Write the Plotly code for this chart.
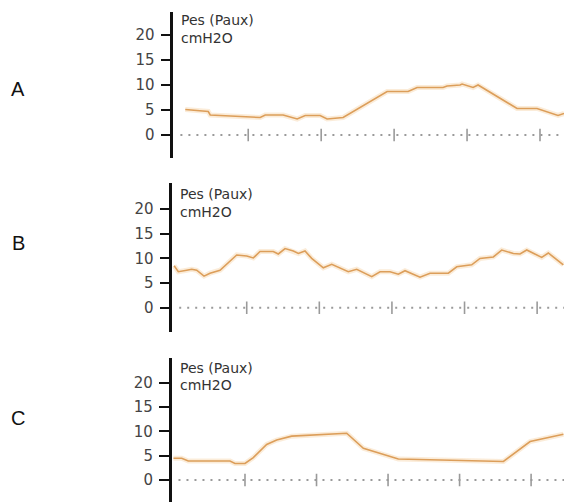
import plotly.graph_objects as go

# Oesophageal pressure traces (cmH2O) over time (s) for three recordings
t_a = [0.137, 0.30, 0.452, 0.479, 1.164, 1.233, 1.479, 1.671, 1.781, 1.986, 2.082,
       2.301, 2.438, 2.904, 3.192, 3.315, 3.671, 3.726, 3.904, 3.932, 4.082, 4.151,
       4.685, 4.959, 5.247, 5.315, 5.33]
p_a = [5.1, 4.9, 4.7, 4.0, 3.5, 4.0, 4.0, 3.2, 3.9, 3.9, 3.2,
       3.5, 4.7, 8.7, 8.7, 9.5, 9.5, 9.8, 10.0, 10.2, 9.5, 10.0,
       5.3, 5.3, 3.9, 4.3, 4.3]

t_b = [0.0, 0.058, 0.174, 0.242, 0.311, 0.412, 0.494, 0.587, 0.632, 0.862, 1.0,
       1.091, 1.183, 1.366, 1.435, 1.528, 1.642, 1.711, 1.803, 1.895, 2.055, 2.171,
       2.399, 2.515, 2.722, 2.836, 2.974, 3.088, 3.180, 3.387, 3.525, 3.777, 3.893,
       4.099, 4.213, 4.397, 4.512, 4.672, 4.764, 4.857, 5.063, 5.154, 5.361]
p_b = [8.5, 7.3, 7.6, 7.8, 7.6, 6.4, 7.0, 7.5, 7.6, 10.7, 10.5,
       10.1, 11.4, 11.4, 10.9, 12.0, 11.5, 11.0, 11.5, 10.0, 8.1, 8.8,
       7.3, 7.8, 6.3, 7.3, 7.3, 6.8, 7.5, 6.2, 7.0, 7.0, 8.3,
       8.7, 10.0, 10.3, 11.7, 11.0, 10.9, 11.7, 10.2, 11.1, 8.7]

t_c = [0.0, 0.115, 0.207, 0.790, 0.860, 1.0, 1.116, 1.303, 1.443, 1.653, 2.422,
       2.655, 3.144, 4.613, 4.986, 5.452]
p_c = [4.45, 4.45, 3.9, 3.9, 3.4, 3.4, 4.6, 7.3, 8.2, 9.0, 9.6,
       6.5, 4.3, 3.8, 7.9, 9.4]

panel_labels = ["A", "B", "C"]
y_ticks = [0, 5, 10, 15, 20]
time_ticks = [1, 2, 3, 4, 5]
channel_name = "Pes (Paux)"
unit_name = "cmH2O"

series = [(t_a, p_a), (t_b, p_b), (t_c, p_c)]

# axis layout per panel: (x domain start, x range, y domain, y range)
panels = [
    (0.3073, [-0.027, 5.329], [0.6853, 0.9761], [-4.6, 24.6]),
    (0.3055, [-0.025, 5.37], [0.3396, 0.6345], [-4.83, 25.2]),
    (0.3044, [-0.025, 5.46], [0.0, 0.2869], [-4.52, 25.05]),
]
letter_y = [88.7, 242.5, 417.5]  # pixel rows of the panel letters

W, H = 564, 502
line_col = "#DC9E5A"
halo_col = "rgba(240,185,120,0.28)"
grey = "#9a9a9a"

fig = go.Figure()
annotations = []

for i, ((t, p), (xd0, xr, yd, yr)) in enumerate(zip(series, panels)):
    n = "" if i == 0 else str(i + 1)
    xa, ya = "x" + n, "y" + n

    # dotted baseline at zero with second markers
    fig.add_trace(go.Scatter(x=[0.07, xr[1]], y=[0, 0], mode="lines",
                             line=dict(color=grey, width=2, dash="2px,6px"),
                             xaxis=xa, yaxis=ya, hoverinfo="skip", showlegend=False))
    fig.add_trace(go.Scatter(x=time_ticks, y=[0] * len(time_ticks), mode="markers",
                             marker=dict(symbol="line-ns-open", size=9, color=grey,
                                         line=dict(color=grey, width=1.6)),
                             xaxis=xa, yaxis=ya, hoverinfo="skip", showlegend=False))
    # pressure trace with a soft halo
    fig.add_trace(go.Scatter(x=t, y=p, mode="lines",
                             line=dict(color=halo_col, width=5),
                             xaxis=xa, yaxis=ya, hoverinfo="skip", showlegend=False))
    fig.add_trace(go.Scatter(x=t, y=p, mode="lines",
                             line=dict(color=line_col, width=1.6),
                             xaxis=xa, yaxis=ya, showlegend=False))

    fig.update_layout({
        "xaxis" + n: dict(domain=[xd0, 1.0], range=xr, showline=False, showgrid=False,
                          zeroline=False, showticklabels=False, ticks="", anchor=ya),
        "yaxis" + n: dict(domain=yd, range=yr, anchor=xa,
                          tickvals=y_ticks, ticks="outside", ticklen=10, tickwidth=2,
                          tickcolor="#111", showline=True, linecolor="#111", linewidth=2.5,
                          showgrid=False, zeroline=False, ticklabelstandoff=3,
                          tickfont=dict(family="DejaVu Sans", size=15, color="#444")),
    })

    annotations.append(dict(x=xd0 + 7 / W, y=23.0, xref="paper", yref=ya,
                            text=channel_name, showarrow=False, xanchor="left",
                            yanchor="middle", borderpad=0,
                            font=dict(family="DejaVu Sans", size=14, color="#333")))
    annotations.append(dict(x=xd0 + 7 / W, y=19.4, xref="paper", yref=ya,
                            text=unit_name, showarrow=False, xanchor="left",
                            yanchor="middle", borderpad=0,
                            font=dict(family="DejaVu Sans", size=14, color="#333")))
    annotations.append(dict(x=18 / W, y=1 - letter_y[i] / H, xref="paper", yref="paper",
                            text=panel_labels[i], showarrow=False, xanchor="center",
                            yanchor="middle",
                            font=dict(family="Liberation Sans", size=20, color="#111")))

fig.update_layout(width=W, height=H, margin=dict(l=0, r=0, t=0, b=0),
                  paper_bgcolor="white", plot_bgcolor="white",
                  annotations=annotations, showlegend=False)

fig.write_html("out.html")
